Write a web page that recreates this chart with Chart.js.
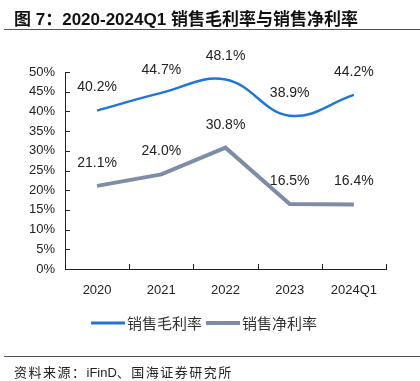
<!DOCTYPE html>
<html><head><meta charset="utf-8">
<script src="https://cdn.jsdelivr.net/npm/chart.js@4/dist/chart.umd.min.js"></script>
<style>
html,body{margin:0;padding:0;background:#fff;}
#wrap{position:relative;width:420px;height:381px;overflow:hidden;background:#fff;}
#title{position:absolute;left:14px;top:5px;font:bold 17px 'Liberation Sans','Noto Sans CJK SC',sans-serif;color:#111;white-space:nowrap;}
.hline{position:absolute;left:4px;right:0;height:0;border-top:1.5px solid #555;}
#foot{position:absolute;left:14px;top:362px;font:13px 'Noto Sans CJK SC',sans-serif;color:#222;white-space:nowrap;letter-spacing:1.5px;}
#foot .lat{font-family:'Liberation Sans',sans-serif;letter-spacing:0;}
canvas{position:absolute;left:0;top:0;}
</style>
</head><body>
<div id="wrap">
<canvas id="c" width="420" height="381"></canvas>
<div id="title">图 7：2020-2024Q1 销售毛利率与销售净利率</div>
<div class="hline" style="top:29px"></div>
<div class="hline" style="top:356px"></div>
<div id="foot">资料来源：<span class="lat">iFinD</span>、国海证券研究所</div>
</div>
<script>
const categories = ['2020','2021','2022','2023','2024Q1'];
const grossMargin = [40.2, 44.7, 48.1, 38.9, 44.2];
const netMargin = [21.1, 24.0, 30.8, 16.5, 16.4];
const seriesNames = ['销售毛利率','销售净利率'];
const yMin = 0, yMax = 50, yStep = 5;

const BLUE = '#1f76d6';
const GRAY = '#7d8da8';

const axisTicks = {
  id: 'axisTicks',
  afterDraw(chart) {
    const ctx = chart.ctx, xs = chart.scales.x, ys = chart.scales.y;
    ctx.save();
    ctx.strokeStyle = '#222';
    ctx.lineWidth = 1;
    ctx.beginPath();
    ys.ticks.forEach((t, i) => {
      const py = Math.round(ys.getPixelForTick(i)) + 0.5;
      ctx.moveTo(xs.left, py); ctx.lineTo(xs.left + 5, py);
    });
    for (let i = 0; i <= categories.length; i++) {
      const px = Math.round(xs.getPixelForValue(i - 0.5)) + 0.5;
      ctx.moveTo(px, ys.bottom); ctx.lineTo(px, ys.bottom - 5);
    }
    ctx.stroke();
    ctx.restore();
  }
};

const valueLabels = {
  id: 'valueLabels',
  afterDatasetsDraw(chart) {
    const ctx = chart.ctx;
    ctx.save();
    ctx.font = '14px "Liberation Sans", Arial, sans-serif';
    ctx.fillStyle = '#222';
    ctx.textAlign = 'center';
    ctx.textBaseline = 'middle';
    chart.data.datasets.forEach((ds, di) => {
      const meta = chart.getDatasetMeta(di);
      meta.data.forEach((pt, i) => {
        ctx.fillText(ds.data[i].toFixed(1) + '%', pt.x, pt.y - 23);
      });
    });
    ctx.restore();
  }
};

const lineLegend = {
  id: 'lineLegend',
  afterDraw(chart) {
    const ctx = chart.ctx;
    const ys = chart.scales.y;
    const cy = ys.bottom + 54;
    const sample = 34, gapText = 2, gapItem = 4;
    ctx.save();
    ctx.font = '15px "Noto Sans CJK SC", sans-serif';
    ctx.textBaseline = 'middle';
    ctx.textAlign = 'left';
    const items = chart.data.datasets.map(ds => ({ ds, w: sample + gapText + ctx.measureText(ds.label).width }));
    const total = items.reduce((a, it) => a + it.w, 0) + gapItem * (items.length - 1);
    let x = 204 - total / 2;
    items.forEach(it => {
      ctx.strokeStyle = it.ds.borderColor;
      ctx.lineWidth = it.ds.borderWidth === 4 ? 4 : 3;
      ctx.beginPath();
      ctx.moveTo(x, cy); ctx.lineTo(x + sample, cy);
      ctx.stroke();
      ctx.fillStyle = '#333';
      ctx.fillText(it.ds.label, x + sample + gapText, cy);
      x += it.w + gapItem;
    });
    ctx.restore();
  }
};

new Chart(document.getElementById('c'), {
  type: 'line',
  data: {
    labels: categories,
    datasets: [
      { label: seriesNames[0], data: grossMargin, borderColor: BLUE, backgroundColor: BLUE, borderWidth: 2.5, pointRadius: 0, tension: 0.4, fill: false },
      { label: seriesNames[1], data: netMargin, borderColor: GRAY, backgroundColor: GRAY, borderWidth: 4, pointRadius: 0, tension: 0, fill: false }
    ]
  },
  options: {
    responsive: false,
    animation: false,
    devicePixelRatio: 1,
    layout: { padding: { top: 72, right: 34, left: 0, bottom: 72 } },
    plugins: {
      tooltip: { enabled: false },
      legend: { display: false }
    },
    scales: {
      x: {
        offset: true,
        grid: { display: false, drawTicks: false },
        border: { display: true, color: '#222', width: 1 },
        ticks: { color: '#222', padding: 14, maxRotation: 0, font: { size: 13, family: '"Liberation Sans", Arial, sans-serif' } },
        afterFit(s) { s.height = 40; s.paddingLeft = 0; s.paddingRight = 0; }
      },
      y: {
        min: yMin, max: yMax,
        grid: { display: false, drawTicks: false },
        border: { display: true, color: '#222', width: 1 },
        ticks: { stepSize: yStep, color: '#222', padding: 10, callback: v => v + '%', font: { size: 13, family: '"Liberation Sans", Arial, sans-serif' } },
        afterFit(s) { s.width = 65; s.paddingTop = 0; s.paddingBottom = 0; }
      }
    }
  },
  plugins: [axisTicks, valueLabels, lineLegend]
});
</script>
</body></html>
